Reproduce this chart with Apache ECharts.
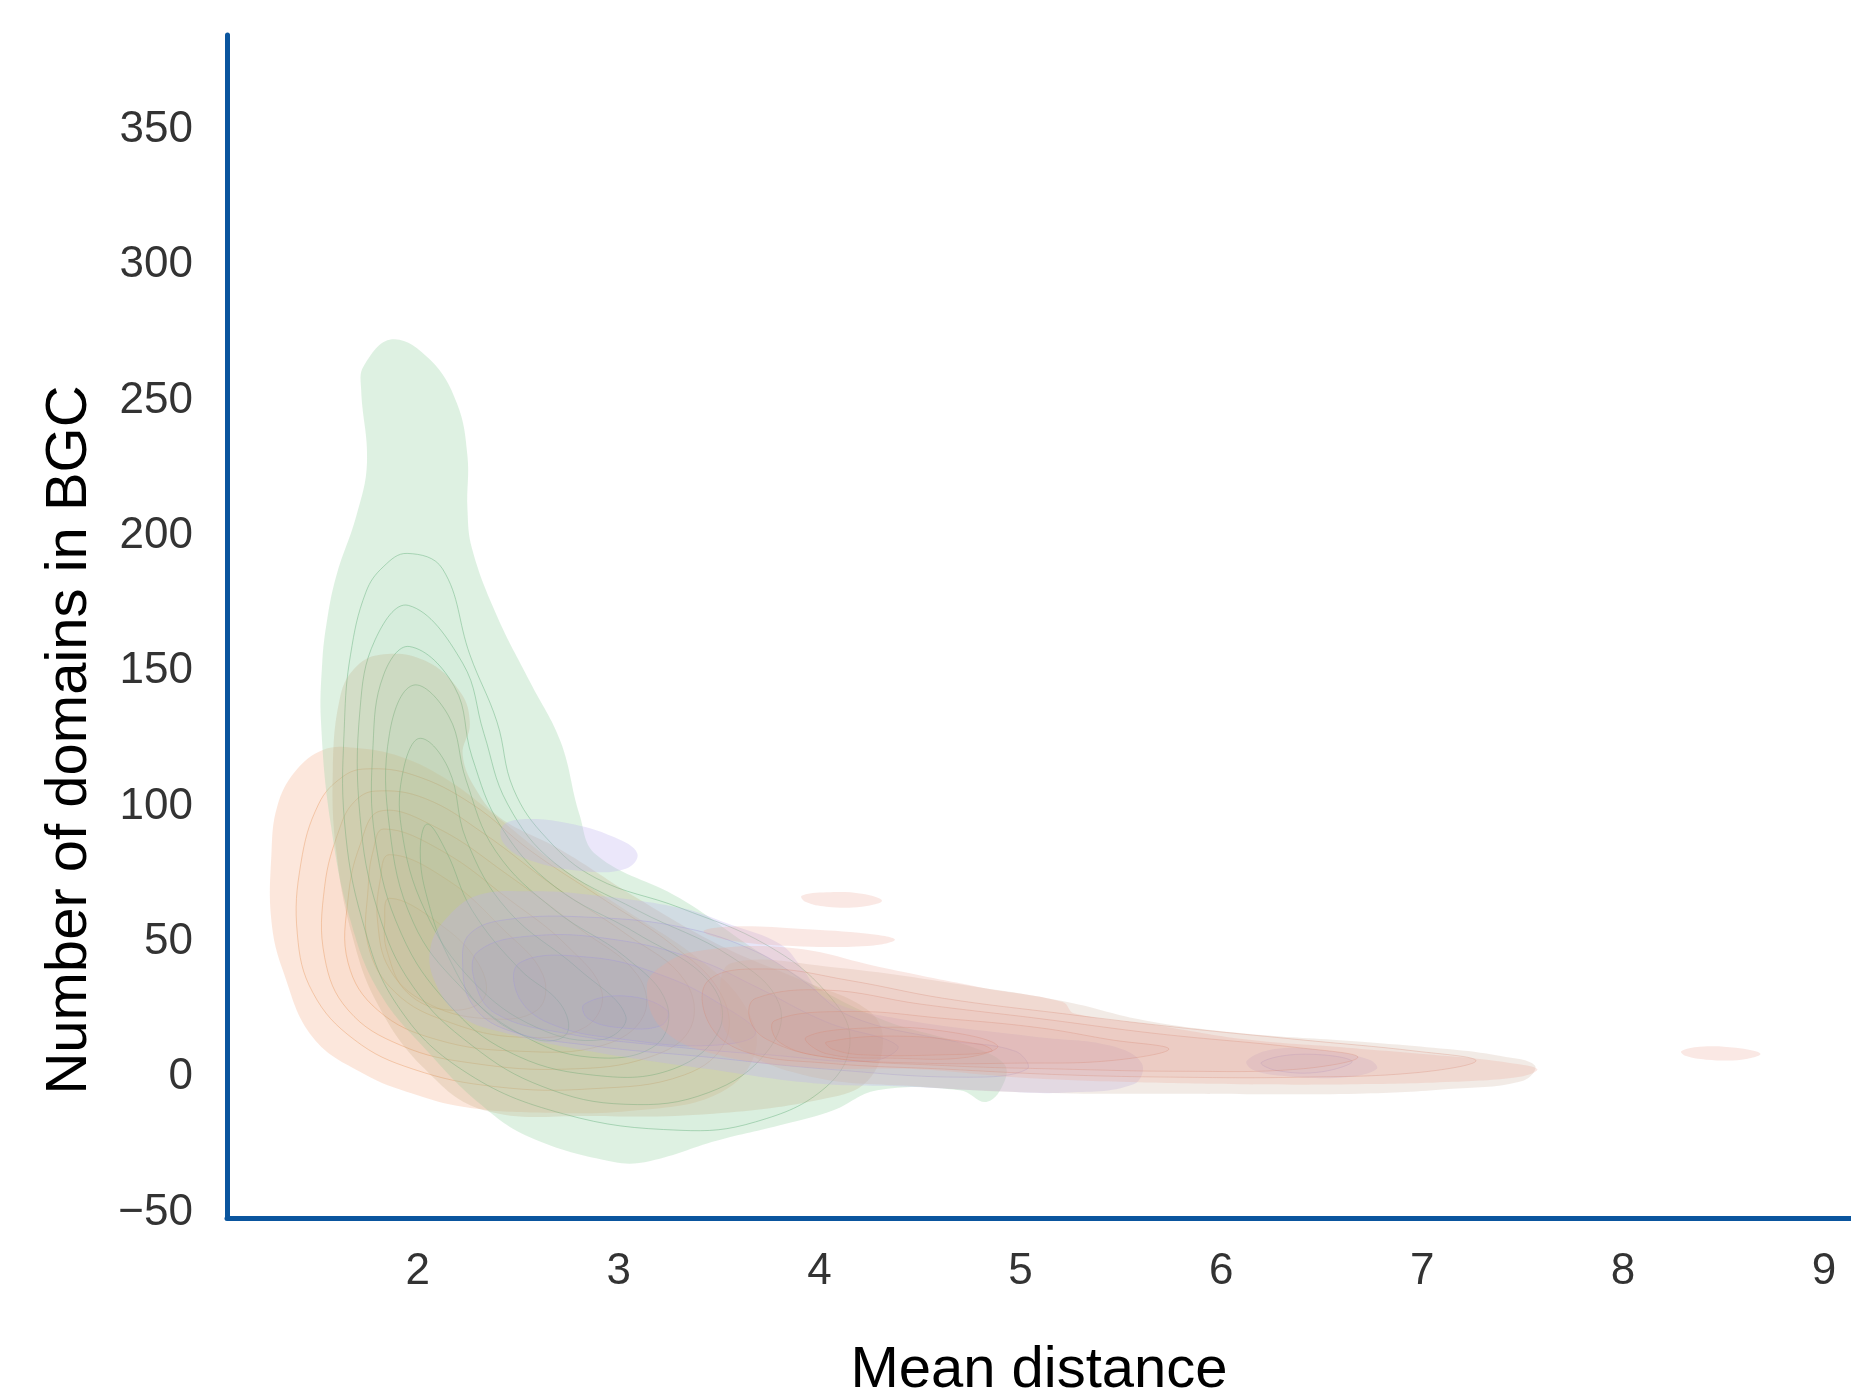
<!DOCTYPE html>
<html>
<head>
<meta charset="utf-8">
<script src="https://cdn.jsdelivr.net/npm/echarts@6/dist/echarts.min.js"></script>
<style>
html, body { margin: 0; padding: 0; background: #fff; }
#chart { width: 1851px; height: 1394px; }
</style>
</head>
<body>
<div id="chart"></div>
<script>
var xTicks = [2, 3, 4, 5, 6, 7, 8, 9];
var yTicks = [-50, 0, 50, 100, 150, 200, 250, 300, 350];

// contour outlines, in data units [mean distance, domains]
var greenOuter = [
  [[1.871,272.6],[2.059,265.2],[2.194,249.1],[2.247,229.6],[2.247,210.0],[2.270,195.2],[2.394,170.4],[2.558,146.1],[2.711,123.9],[2.805,97.0],[2.888,82.2],[3.305,66.1],[3.740,44.3],[4.269,22.6],[4.740,11.7],[4.916,5.2],[4.922,-1.3],[4.834,-9.1],[4.698,-4.8],[4.287,-4.8],[4.069,-12.2],[3.822,-17.4],[3.487,-23.5],[3.158,-30.9],[2.976,-31.3],[2.558,-22.2],[2.312,-10.0],[2.059,8.7],[1.812,30.9],[1.665,57.8],[1.565,94.3],[1.518,131.3],[1.524,153.0],[1.547,168.3],[1.594,185.2],[1.694,207.4],[1.747,227.0],[1.718,253.9],[1.730,262.6]]
];
var greenInner = [
  [[1.947,193.5],[2.123,187.8],[2.259,156.1],[2.394,131.3],[2.476,106.5],[2.641,88.3],[2.888,73.5],[3.305,62.6],[3.740,48.7],[4.034,31.3],[4.152,13.9],[4.034,-3.5],[3.681,-16.5],[3.305,-19.6],[2.723,-13.5],[2.223,2.6],[1.894,27.0],[1.724,57.8],[1.635,94.3],[1.635,131.3],[1.665,156.1],[1.741,179.1],[1.830,188.7]],
  [[1.953,174.3],[2.223,153.0],[2.329,127.0],[2.447,100.9],[2.682,79.1],[3.093,61.7],[3.564,44.3],[3.799,27.0],[3.740,9.6],[3.446,-5.7],[3.035,-10.0],[2.623,-3.5],[2.270,11.7],[1.976,33.5],[1.800,61.7],[1.712,96.5],[1.712,135.7],[1.788,161.7]],
  [[1.959,159.1],[2.182,144.3],[2.270,118.3],[2.417,92.2],[2.682,70.4],[3.093,53.0],[3.446,35.7],[3.505,18.3],[3.270,3.0],[2.858,0.9],[2.447,9.6],[2.153,27.0],[1.918,53.0],[1.788,87.8],[1.777,122.6],[1.830,148.7]],
  [[1.976,144.8],[2.153,133.5],[2.241,109.6],[2.388,83.5],[2.682,61.7],[3.035,44.3],[3.240,27.0],[3.182,11.7],[2.858,7.4],[2.506,16.1],[2.212,33.5],[1.976,57.4],[1.859,92.2],[1.859,127.0]],
  [[2.012,125.2],[2.153,113.9],[2.241,87.8],[2.447,61.7],[2.800,40.0],[3.035,22.6],[2.917,13.9],[2.594,18.3],[2.270,35.7],[2.035,61.7],[1.918,92.2],[1.929,113.9]],
  [[2.047,93.5],[2.141,83.5],[2.270,61.7],[2.506,40.0],[2.711,27.0],[2.741,16.1],[2.594,13.9],[2.329,24.8],[2.153,44.3],[2.047,66.1],[2.012,83.5]]
];

var peachOuter = [
  [[1.683,121.7],[1.918,118.3],[2.153,109.6],[2.388,96.5],[2.682,79.1],[3.035,61.7],[3.387,44.3],[3.623,27.0],[3.681,9.6],[3.505,-5.7],[3.093,-12.2],[2.564,-13.0],[2.223,-10.9],[1.976,-6.1],[1.730,1.3],[1.477,14.8],[1.330,39.1],[1.271,57.8],[1.271,82.2],[1.300,100.0],[1.390,113.0],[1.530,121.0]]
];
var peachInner = [
  [[1.741,113.9],[1.976,111.7],[2.270,100.9],[2.564,83.5],[2.917,66.1],[3.270,48.7],[3.505,31.3],[3.534,13.9],[3.329,0.9],[2.858,-4.3],[2.388,-3.5],[1.976,3.0],[1.683,13.9],[1.477,31.3],[1.400,53.0],[1.418,79.1],[1.506,100.9],[1.624,110.9]],
  [[1.788,105.7],[2.035,103.0],[2.329,90.0],[2.682,70.4],[3.035,53.0],[3.329,35.7],[3.358,18.3],[3.152,7.4],[2.741,3.0],[2.270,5.2],[1.918,11.7],[1.653,24.8],[1.536,44.3],[1.536,70.4],[1.612,92.2],[1.683,101.7]],
  [[1.812,98.3],[2.094,92.2],[2.447,74.8],[2.800,55.2],[3.093,37.8],[3.123,22.6],[2.917,11.7],[2.506,9.6],[2.094,13.9],[1.800,24.8],[1.653,42.2],[1.653,66.1],[1.712,85.7]],
  [[1.830,91.7],[2.123,83.5],[2.447,66.1],[2.741,48.7],[2.917,31.3],[2.829,18.3],[2.506,14.8],[2.153,20.4],[1.888,31.3],[1.753,48.7],[1.753,70.4],[1.777,83.5]],
  [[1.859,82.2],[2.153,72.6],[2.417,55.2],[2.623,37.8],[2.594,24.8],[2.329,21.7],[2.035,27.8],[1.859,40.0],[1.800,57.4],[1.812,72.6]],
  [[1.859,66.1],[2.094,57.4],[2.300,42.2],[2.329,29.1],[2.153,24.8],[1.947,31.3],[1.847,46.5],[1.835,57.4]]
];

var tanOuter = [
  [[1.812,156.1],[2.035,153.9],[2.212,142.2],[2.259,130.4],[2.223,119.1],[2.294,105.7],[2.412,95.7],[2.705,84.3],[3.093,66.1],[3.505,48.7],[3.916,35.7],[4.240,24.8],[4.316,13.9],[4.240,-1.3],[4.034,-7.8],[3.470,-13.5],[2.858,-14.3],[2.329,-12.2],[2.035,3.0],[1.800,27.0],[1.671,53.0],[1.594,83.5],[1.577,113.9],[1.612,140.0],[1.683,150.9]]
];

var lavenderOuter = [
  [[2.417,92.2],[2.506,95.2],[2.741,93.9],[2.976,88.7],[3.093,82.6],[3.035,77.0],[2.829,76.1],[2.564,80.0],[2.435,85.7]],
  [[2.065,48.7],[2.153,59.6],[2.306,67.4],[2.564,68.7],[2.805,67.8],[3.305,62.6],[3.552,56.5],[3.805,49.1],[3.916,40.0],[4.034,29.1],[4.387,21.7],[5.092,14.8],[5.445,11.7],[5.604,5.2],[5.563,-2.6],[5.210,-5.7],[4.898,-5.2],[4.446,-3.5],[3.969,-2.2],[3.446,3.0],[2.858,9.6],[2.447,16.1],[2.212,22.6],[2.082,35.7]],
  [[6.127,6.1],[6.268,10.4],[6.503,10.0],[6.738,6.5],[6.774,3.0],[6.621,0],[6.327,0.4],[6.162,2.6]]
];
var lavenderInner = [
  [[2.259,53.0],[2.447,58.3],[2.858,59.1],[3.329,55.2],[3.681,46.5],[3.916,35.7],[4.152,22.6],[4.622,13.9],[4.975,9.6],[5.033,3.0],[4.740,0],[4.034,3.0],[3.446,7.4],[2.858,11.7],[2.447,17.4],[2.270,27.0],[2.223,42.2]],
  [[2.300,46.5],[2.564,52.2],[2.976,50.9],[3.387,43.5],[3.681,33.5],[4.034,20.4],[4.387,11.7],[4.269,6.1],[3.740,8.3],[3.211,11.7],[2.741,16.1],[2.388,23.5],[2.282,35.7]],
  [[2.506,42.2],[2.858,44.3],[3.211,37.8],[3.505,27.0],[3.681,16.1],[3.446,11.7],[3.035,13.9],[2.682,19.1],[2.506,29.1]],
  [[2.829,27.0],[3.035,30.0],[3.240,24.8],[3.211,19.1],[3.005,18.3],[2.847,21.7]],
  [[6.200,5.5],[6.400,8.5],[6.650,6.0],[6.500,2.0],[6.280,2.4]]
];

var beigeOuter = [
  [[3.564,42.2],[4.034,40.9],[4.816,33.0],[5.233,27.8],[5.627,20.9],[6.127,16.1],[6.627,13.5],[7.126,10.4],[7.391,7.8],[7.561,4.3],[7.503,-1.3],[7.150,-4.3],[6.680,-6.1],[5.798,-6.1],[5.092,-5.7],[4.504,-3.5],[3.916,0.9],[3.564,13.9],[3.505,31.3]]
];

var pinkOuter = [
  [[3.140,33.5],[3.211,40.9],[3.387,46.5],[3.852,47.8],[4.316,40.4],[4.816,33.0],[5.210,27.8],[5.269,23.5],[5.680,19.1],[6.127,13.9],[6.627,10.9],[7.126,7.8],[7.444,5.2],[7.573,3.0],[7.503,0.4],[7.150,-1.7],[6.680,-2.6],[6.092,-2.6],[5.504,-1.7],[4.975,0],[4.469,3.0],[3.969,3.5],[3.470,8.7],[3.211,18.3]],
  [[3.423,53.9],[3.564,55.7],[3.916,54.8],[4.240,53.0],[4.375,50.9],[4.269,48.7],[3.916,48.3],[3.564,50.4]],
  [[3.911,67.0],[4.034,68.3],[4.211,67.8],[4.311,65.2],[4.211,63.0],[4.034,63.0],[3.929,64.8]],
  [[8.290,9.6],[8.384,11.3],[8.561,10.9],[8.684,8.7],[8.590,6.5],[8.414,6.5],[8.314,7.8]]
];
var pinkInner = [
  [[3.446,35.7],[3.740,40.0],[4.152,35.7],[4.622,29.1],[5.210,23.5],[5.798,18.3],[6.386,13.9],[6.974,9.6],[7.268,6.1],[6.974,1.7],[6.386,0],[5.798,0],[5.210,0.9],[4.622,3.0],[4.034,5.2],[3.623,9.6],[3.446,20.4]],
  [[3.681,29.1],[4.034,32.2],[4.504,27.0],[5.092,21.7],[5.680,16.1],[6.386,10.9],[6.680,7.4],[6.386,3.0],[5.798,2.2],[5.210,3.0],[4.622,4.3],[4.034,7.4],[3.740,13.9],[3.652,21.7]],
  [[3.776,20.9],[4.152,24.3],[4.622,21.7],[5.092,18.3],[5.445,13.9],[5.739,10.4],[5.445,6.1],[4.975,5.2],[4.504,5.2],[4.034,7.4],[3.799,13.0]],
  [[3.934,14.8],[4.269,18.3],[4.622,17.0],[4.886,11.7],[4.740,7.4],[4.387,7.0],[4.034,8.7]],
  [[4.034,13.0],[4.387,15.2],[4.798,12.2],[4.857,9.6],[4.622,8.3],[4.211,8.3],[4.064,10.4]]
];

var dom = document.getElementById('chart');
var myChart = echarts.init(dom, null, { renderer: 'canvas' });

function kdeSeries(name, outers, inners, st) {
  var all = outers.concat(inners);
  return {
    name: name,
    type: 'custom',
    coordinateSystem: 'cartesian2d',
    silent: true,
    clip: true,
    data: all.map(function (poly, i) {
      return [poly[0][0], poly[0][1], i < outers.length ? 0 : 1, i];
    }),
    renderItem: function (params, api) {
      var poly = all[api.value(3)];
      var isOuter = api.value(2) === 0;
      var pts = poly.map(function (p) { return api.coord(p); });
      return {
        type: 'polygon',
        shape: { points: pts, smooth: 0.4 },
        style: {
          fill: isOuter ? st.outer : st.inner,
          stroke: isOuter ? null : st.line,
          lineWidth: 1
        }
      };
    }
  };
}

var axisBlue = '#0a559e';
var fontFam = '"Liberation Sans", Arial, Helvetica, sans-serif';

option = {
  backgroundColor: '#ffffff',
  animation: false,
  grid: { left: 227, right: 0, top: 35, bottom: 176, outerBoundsMode: 'none' },
  xAxis: {
    type: 'value',
    min: 1.05,
    max: 9.135,
    name: 'Mean distance',
    nameLocation: 'middle',
    nameGap: 124,
    nameTextStyle: { fontSize: 58, color: '#000', fontFamily: fontFam },
    axisLine: { show: true, onZero: false, lineStyle: { color: axisBlue, width: 5 } },
    axisTick: { show: false },
    splitLine: { show: false },
    axisLabel: {
      customValues: xTicks,
      fontSize: 44,
      margin: 32,
      color: '#333',
      fontFamily: fontFam
    }
  },
  yAxis: {
    type: 'value',
    min: -52,
    max: 385,
    axisLine: { show: true, onZero: false, lineStyle: { color: axisBlue, width: 5 } },
    axisTick: { show: false },
    splitLine: { show: false },
    axisLabel: {
      customValues: yTicks,
      fontSize: 44,
      margin: 34,
      color: '#333',
      fontFamily: fontFam,
      formatter: function (v) { return String(v).replace('-', '\u2212'); }
    }
  },
  graphic: [{
    type: 'text',
    x: 70,
    y: 740,
    rotation: Math.PI / 2,
    style: {
      text: 'Number of domains in BGC',
      fontSize: 58,
      fontFamily: fontFam,
      fill: '#000',
      align: 'center',
      verticalAlign: 'middle'
    }
  }],
  series: [
    kdeSeries('peach', peachOuter, peachInner, {
      outer: 'rgba(245,170,130,0.28)', inner: 'rgba(240,150,90,0.045)', line: 'rgba(230,150,90,0.4)'
    }),
    kdeSeries('green', greenOuter, greenInner, {
      outer: 'rgba(160,214,172,0.35)', inner: 'rgba(120,190,140,0.035)', line: 'rgba(100,175,125,0.45)'
    }),
    kdeSeries('tan', tanOuter, [], {
      outer: 'rgba(185,160,115,0.22)', inner: 'rgba(0,0,0,0)', line: 'rgba(0,0,0,0)'
    }),
    kdeSeries('lavender', lavenderOuter, lavenderInner, {
      outer: 'rgba(190,175,240,0.3)', inner: 'rgba(140,130,190,0.07)', line: 'rgba(160,150,220,0.35)'
    }),
    kdeSeries('beige', beigeOuter, [], {
      outer: 'rgba(205,175,155,0.25)', inner: 'rgba(0,0,0,0)', line: 'rgba(0,0,0,0)'
    }),
    kdeSeries('pink', pinkOuter, pinkInner, {
      outer: 'rgba(235,165,150,0.26)', inner: 'rgba(215,135,115,0.075)', line: 'rgba(215,135,115,0.3)'
    })
  ]
};

if (option && typeof option === 'object') {
  myChart.setOption(option, true);
}
</script>
</body>
</html>
